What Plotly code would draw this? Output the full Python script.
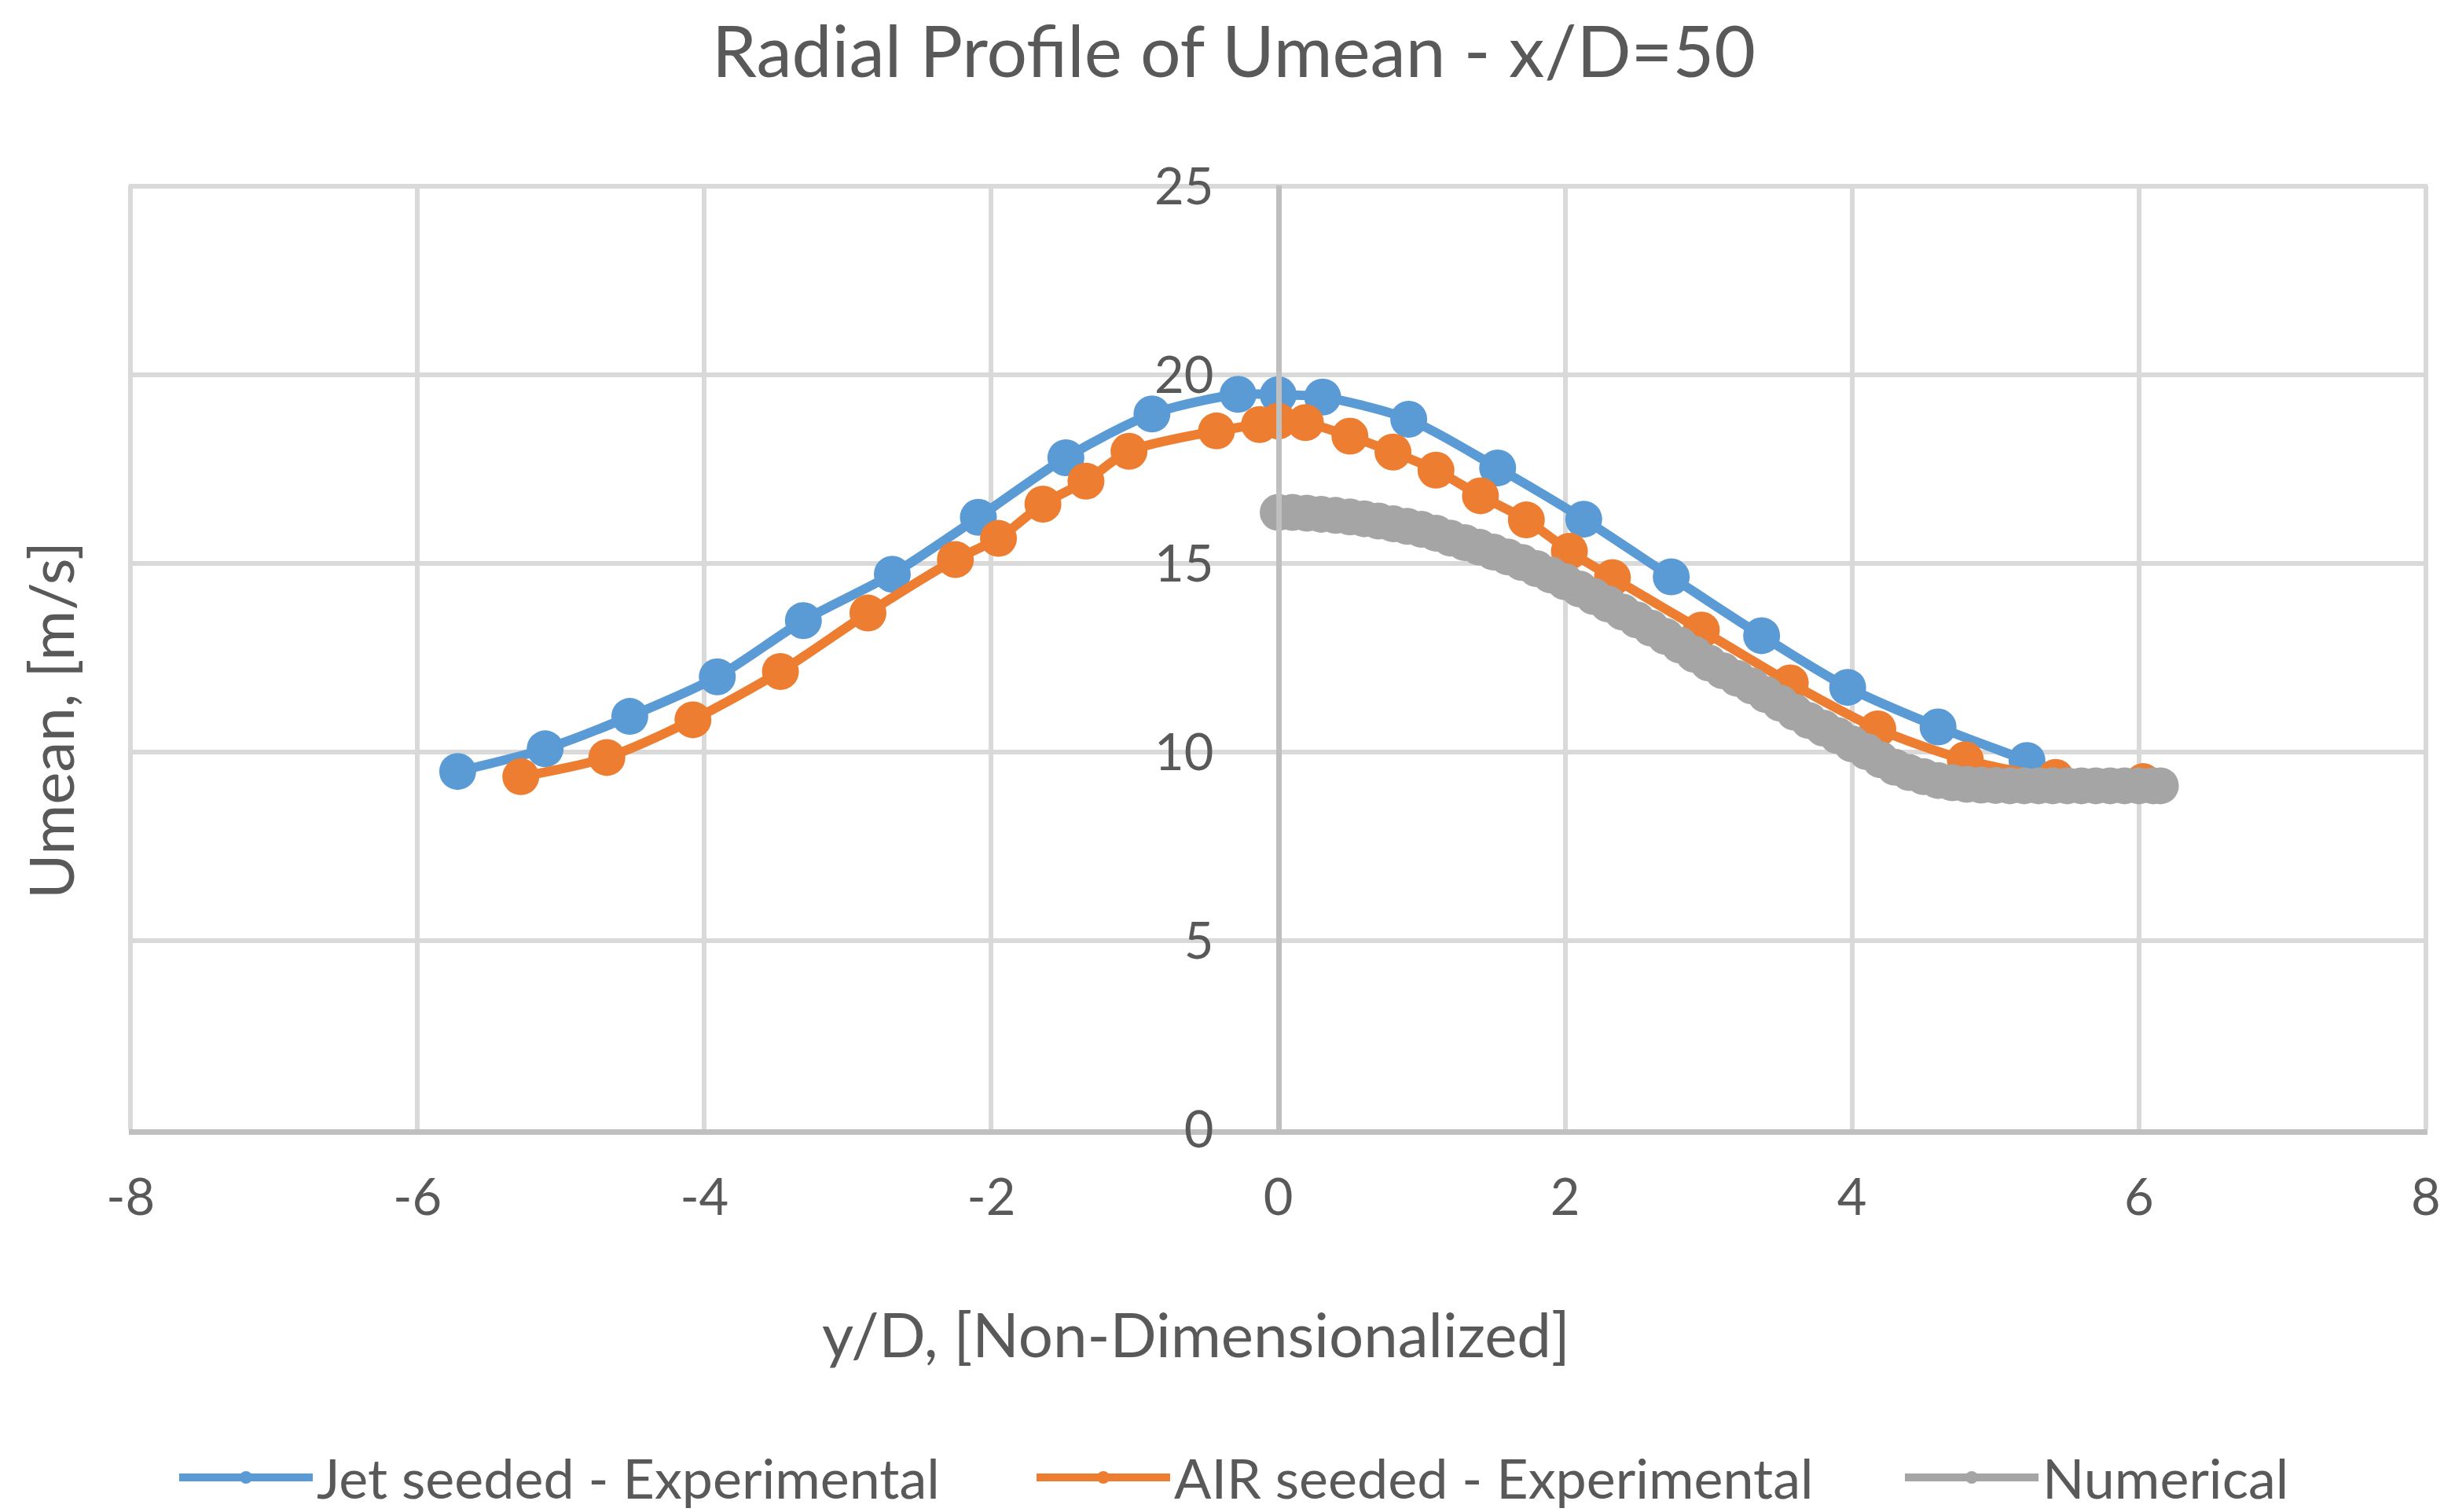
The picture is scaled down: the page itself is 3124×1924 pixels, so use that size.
import plotly.graph_objects as go

# ---------------- data ----------------
jet_x = [-5.72, -5.11, -4.52, -3.91, -3.31, -2.69, -2.09, -1.48, -0.88, -0.28,
         0.0, 0.31, 0.91, 1.53, 2.13, 2.74, 3.37, 3.97, 4.60, 5.22]
jet_y = [9.49, 10.09, 10.95, 12.00, 13.49, 14.72, 16.23, 17.81, 18.97, 19.49,
         19.48, 19.42, 18.83, 17.54, 16.18, 14.65, 13.09, 11.72, 10.67, 9.78]

air_x = [-5.28, -4.68, -4.08, -3.47, -2.86, -2.25, -1.95, -1.64, -1.34, -1.04,
         -0.43, -0.13, 0.0, 0.19, 0.50, 0.80, 1.10, 1.41, 1.73, 2.03,
         2.33, 2.95, 3.57, 4.18, 4.79, 5.42, 6.03]
air_y = [9.35, 9.86, 10.86, 12.14, 13.69, 15.11, 15.67, 16.58, 17.19, 17.98,
         18.52, 18.69, 18.78, 18.74, 18.38, 17.96, 17.48, 16.80, 16.16, 15.33,
         14.63, 13.24, 11.84, 10.62, 9.80, 9.33, 9.22]

num_x = [0.0, 0.1, 0.2, 0.3, 0.4, 0.5, 0.6, 0.7, 0.8, 0.9,
         1.0, 1.1, 1.2, 1.3, 1.4, 1.5, 1.6, 1.7, 1.8, 1.9,
         2.0, 2.1, 2.2, 2.3, 2.4, 2.5, 2.6, 2.7, 2.8, 2.9,
         3.0, 3.1, 3.2, 3.3, 3.4, 3.5, 3.6, 3.7, 3.8, 3.9,
         4.0, 4.1, 4.2, 4.3, 4.4, 4.5, 4.6, 4.7, 4.8, 4.9,
         5.0, 5.1, 5.2, 5.3, 5.4, 5.5, 5.6, 5.7, 5.8, 5.9,
         6.0, 6.1, 6.15]
num_y = [16.36, 16.36, 16.34, 16.31, 16.28, 16.24, 16.19, 16.13, 16.06, 15.99,
         15.91, 15.81, 15.68, 15.56, 15.44, 15.31, 15.18, 15.03, 14.87, 14.70,
         14.52, 14.33, 14.13, 13.93, 13.72, 13.51, 13.29, 13.07, 12.84, 12.60,
         12.37, 12.16, 11.96, 11.76, 11.53, 11.30, 11.06, 10.84, 10.64, 10.44,
         10.22, 10.02, 9.80, 9.60, 9.46, 9.35, 9.25, 9.19, 9.15, 9.13,
         9.12, 9.11, 9.11, 9.11, 9.11, 9.11, 9.11, 9.11, 9.11, 9.11,
         9.11, 9.11, 9.11]

x_ticks = [-8, -6, -4, -2, 0, 2, 4, 6, 8]
x_ticktext = ["-8", "-6", "-4", "-2", "0", "2", "4", "6", "8"]
y_ticks = [0, 5, 10, 15, 20, 25]

series_names = ["Jet seeded - Experimental", "AIR seeded - Experimental", "Numerical"]
colors = ["#5B9BD5", "#ED7D31", "#A5A5A5"]

title_text = "Radial Profile of Umean - x/D=50"
x_title = "y/D, [Non-Dimensionalized]"
y_title = "Umean, [m/s]"

# ---------------- figure ----------------
FONT = "Lato"
TXT = "#595959"
W, H = 3124, 1924
ML, MR, MT, MB = 156, 43, 228, 495
PW, PH = W - ML - MR, H - MT - MB

def px_to_paper_x(px):
    return (px - ML) / PW

def px_to_paper_y(py):
    return (H - MB - py) / PH

legend_ids = ["legend", "legend2", "legend3"]
legend_left_px = [215, 1306, 2411]

fig = go.Figure()
for xs, ys, name, col, lg in zip([jet_x, air_x, num_x], [jet_y, air_y, num_y],
                                 series_names, colors, legend_ids):
    fig.add_trace(go.Scatter(
        x=xs, y=ys, name=name, mode="lines+markers", legend=lg,
        line=dict(color=col, width=12, shape="spline", smoothing=0.8),
        marker=dict(color=col, size=47, line=dict(width=0)),
    ))

legend_common = dict(orientation="h", xanchor="left",
                     y=px_to_paper_y(1872), yanchor="middle",
                     itemwidth=170,
                     font=dict(family=FONT, size=70, color=TXT),
                     bgcolor="rgba(0,0,0,0)")

fig.update_layout(
    width=W, height=H,
    margin=dict(l=ML, r=MR, t=MT, b=MB, autoexpand=False),
    paper_bgcolor="white", plot_bgcolor="white",
    font=dict(family=FONT, color=TXT, size=65),
    title=dict(text=title_text, x=0.5, xanchor="center", xref="container",
               y=1 - 58 / H, yanchor="middle", yref="container",
               font=dict(family=FONT, size=91, color=TXT)),
    xaxis=dict(range=[-8.012, 8.012], tickmode="array", tickvals=x_ticks, ticktext=x_ticktext,
               showgrid=True, gridcolor="#D9D9D9", gridwidth=6,
               showline=True, linecolor="#BFBFBF", linewidth=7,
               zeroline=False, ticks="", ticklabelstandoff=24,
               tickfont=dict(family=FONT, size=65, color=TXT)),
    yaxis=dict(range=[0, 25.03], tickmode="array", tickvals=y_ticks,
               anchor="free", position=0.5,
               showgrid=True, gridcolor="#D9D9D9", gridwidth=6,
               showline=True, linecolor="#BFBFBF", linewidth=7,
               zeroline=False, ticks="", ticklabelstandoff=66,
               tickfont=dict(family=FONT, size=65, color=TXT)),
    showlegend=True,
    legend=dict(x=px_to_paper_x(legend_left_px[0]), **legend_common),
    legend2=dict(x=px_to_paper_x(legend_left_px[1]), **legend_common),
    legend3=dict(x=px_to_paper_x(legend_left_px[2]), **legend_common),
    annotations=[
        dict(text=x_title, xref="paper", yref="paper",
             x=px_to_paper_x(1514), y=px_to_paper_y(1689),
             xanchor="center", yanchor="middle", showarrow=False,
             font=dict(family=FONT, size=78, color=TXT)),
        dict(text=y_title, xref="paper", yref="paper",
             x=px_to_paper_x(56), y=px_to_paper_y(909),
             xanchor="center", yanchor="middle", showarrow=False, textangle=-90,
             font=dict(family=FONT, size=78, color=TXT)),
    ],
)

fig.write_html("out.html")
